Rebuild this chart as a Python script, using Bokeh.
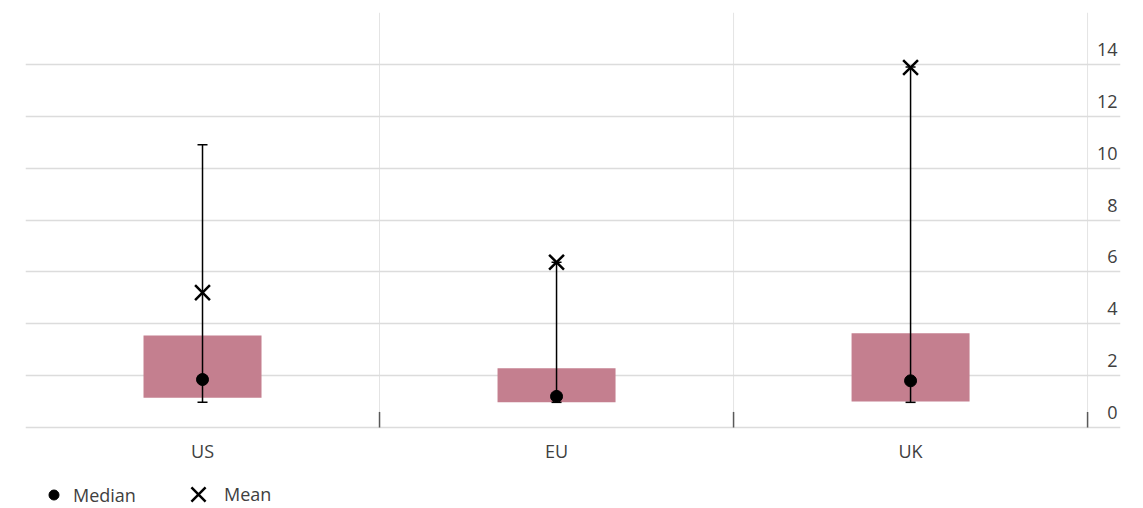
from bokeh.plotting import figure
from bokeh.models import (Range1d, FixedTicker, Whisker, TeeHead, ColumnDataSource,
                          Legend, LegendItem, Grid)
from bokeh.core.properties import value
from bokeh.embed import file_html
from bokeh.resources import INLINE

# ---- data ----
categories = ["US", "EU", "UK"]
whisker_low = [0.97, 0.97, 0.97]
box_low = [1.15, 0.97, 1.0]
median = [1.85, 1.2, 1.8]
box_high = [3.55, 2.28, 3.63]
whisker_high = [10.9, 6.37, 13.9]
mean = [5.2, 6.37, 13.88]
y_ticks = [0, 2, 4, 6, 8, 10, 12, 14]
y_tick_labels = ["0", "2", "4", "6", "8", "10", "12", "14"]
y_max = 16

n = len(categories)
centers = [i + 0.5 for i in range(n)]
separators = [i + 1 for i in range(n)]
x_end = n + 0.093

# layout constants (pixels)
W, H = 1143, 508
TOP, LEFT, RIGHT = 12, 25, 23
PLOT_H = 415                      # height of the value area (0..16)
BELOW = H - TOP - PLOT_H          # room for category labels + legend
px_per_unit = PLOT_H / y_max
y_min = -BELOW / px_per_unit

FONT = "Open Sans"
TXT = "#404040"

src = ColumnDataSource(dict(x=centers, cat=categories, wl=whisker_low, bl=box_low,
                            med=median, bh=box_high, wh=whisker_high, mean=mean))

p = figure(width=W, height=H, output_backend="svg", toolbar_location=None,
           x_range=Range1d(0, x_end), y_range=Range1d(y_min, y_max),
           x_axis_location=None, y_axis_location=None,
           min_border_left=LEFT, min_border_right=RIGHT, min_border_top=TOP,
           min_border_bottom=0)
p.outline_line_color = None
p.background_fill_color = "white"
p.border_fill_color = "white"
p.xgrid.visible = False
p.ygrid.visible = False

# horizontal gridlines (behind everything)
p.add_layout(Grid(dimension=1, ticker=FixedTicker(ticks=list(range(0, y_max + 1, 2))),
                  grid_line_color="#dcdcdc", grid_line_width=1.5, level="image"))

# vertical category separators
p.segment(x0=separators, y0=[0] * n, x1=separators, y1=[y_max] * n,
          line_color="#e4e4e4", line_width=1, level="image")
# small separator ticks on the baseline
p.segment(x0=separators, y0=[0] * n, x1=separators, y1=[0.6] * n,
          line_color="#595959", line_width=1.5)

# y labels (inside, above gridlines)
p.text(x=[x_end] * len(y_ticks), y=y_ticks, text=y_tick_labels,
       text_align="right", text_baseline="middle", x_offset=-3, y_offset=-15,
       text_font=value(FONT), text_font_size="18px", text_color=TXT)

# category labels
p.text(x=centers, y=[0] * n, text=categories,
       text_align="center", text_baseline="middle", y_offset=23,
       text_font=value(FONT), text_font_size="18px", text_color=TXT)

# boxes
p.vbar(x="x", width=1 / 3, bottom="bl", top="bh", source=src,
       fill_color="#c47f8f", line_color=None, level="underlay")

# whiskers (drawn over the boxes)
w = Whisker(base="x", lower="wl", upper="wh", source=src, dimension="height",
            line_color="black", line_width=1.5, level="glyph",
            upper_head=TeeHead(size=10, line_color="black", line_width=1.5),
            lower_head=TeeHead(size=10, line_color="black", line_width=1.5))
p.add_layout(w)

med_r = p.scatter(x="x", y="med", source=src, marker="circle", size=12,
                  fill_color="black", line_color="black", level="overlay")
mean_r = p.scatter(x="x", y="mean", source=src, marker="x", size=21,
                   line_color="black", line_width=2.5, level="overlay")

common = dict(orientation="horizontal", padding=0, margin=0,
              border_line_color=None, background_fill_alpha=0,
              label_text_font=FONT, label_text_font_size="18px",
              label_text_color=TXT)

legend_med = Legend(items=[LegendItem(label="Median", renderers=[med_r])],
                    location=(16, 1), label_standoff=7,
                    glyph_width=25, glyph_height=25, **common)
legend_mean = Legend(items=[LegendItem(label="Mean", renderers=[mean_r])],
                     location=(148, -11), label_standoff=1,
                     glyph_width=50, glyph_height=50, **common)
p.add_layout(legend_med)
p.add_layout(legend_mean)

open("out.html", "w").write(file_html(p, INLINE))
